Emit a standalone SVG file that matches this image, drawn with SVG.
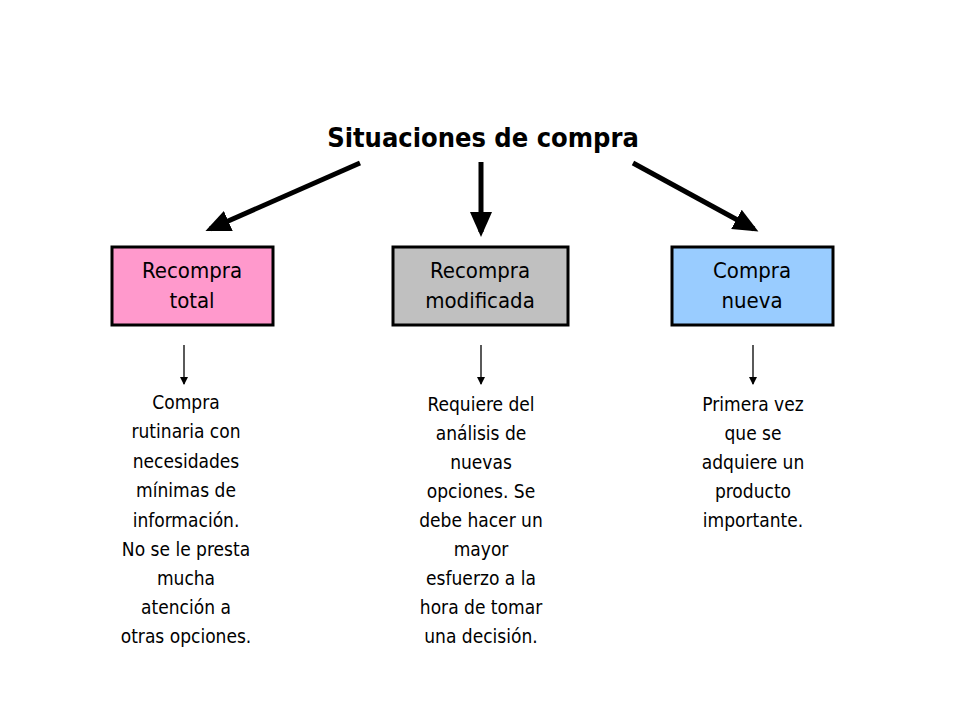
<svg xmlns="http://www.w3.org/2000/svg" width="960" height="720" viewBox="0 0 960 720">
<style>
text{font-family:"DejaVu Sans Condensed","DejaVu Sans",sans-serif;fill:#000;text-anchor:middle}
.t{font-size:27px;font-weight:bold}
.b{font-size:22px}
.d{font-size:19px}
.box{stroke:#000;stroke-width:3}
.big{stroke:#000;stroke-width:5;fill:none}
.sm{stroke:#000;stroke-width:1.3;fill:none}
</style>
<defs>
<marker id="ah" markerWidth="6" markerHeight="6" refX="4" refY="3" orient="auto" markerUnits="strokeWidth"><path d="M0,0.8 L5,3 L0,5.2 Z"/></marker>
<marker id="as" markerWidth="8" markerHeight="8" refX="7" refY="4" orient="auto" markerUnits="userSpaceOnUse"><path d="M0,0 L8,4 L0,8 Z"/></marker>
</defs>
<rect width="960" height="720" fill="#fff"/>
<g id="title"><text class="t" x="483" y="147">Situaciones de compra</text></g>
<g id="connectors">
<line class="big" x1="360" y1="163" x2="210" y2="229" marker-end="url(#ah)"/>
<line class="big" x1="481" y1="162" x2="481" y2="232" marker-end="url(#ah)"/>
<line class="big" x1="633" y1="163" x2="754" y2="229" marker-end="url(#ah)"/>
<line class="sm" x1="184" y1="345" x2="184" y2="384" marker-end="url(#as)"/>
<line class="sm" x1="481" y1="345" x2="481" y2="384" marker-end="url(#as)"/>
<line class="sm" x1="753" y1="345" x2="753" y2="384" marker-end="url(#as)"/>
</g>
<g id="n1"><rect class="box" x="112" y="247" width="161" height="78" fill="#ff99cc"/><text class="b" x="192" y="278">Recompra</text><text class="b" x="192" y="308">total</text></g>
<g id="n2"><rect class="box" x="393" y="247" width="175" height="78" fill="#c0c0c0"/><text class="b" x="480" y="278">Recompra</text><text class="b" x="480" y="308">modificada</text></g>
<g id="n3"><rect class="box" x="672" y="247" width="161" height="78" fill="#99ccff"/><text class="b" x="752" y="278">Compra</text><text class="b" x="752" y="308">nueva</text></g>
<g id="d1" class="d"><text class="d" x="186" y="409">Compra</text><text class="d" x="186" y="438">rutinaria con</text><text class="d" x="186" y="468">necesidades</text><text class="d" x="186" y="497">mínimas de</text><text class="d" x="186" y="527">información.</text><text class="d" x="186" y="556">No se le presta</text><text class="d" x="186" y="585">mucha</text><text class="d" x="186" y="614">atención a</text><text class="d" x="186" y="643">otras opciones.</text></g>
<g id="d2"><text class="d" x="481" y="411">Requiere del</text><text class="d" x="481" y="440">análisis de</text><text class="d" x="481" y="469">nuevas</text><text class="d" x="481" y="498">opciones. Se</text><text class="d" x="481" y="527">debe hacer un</text><text class="d" x="481" y="556">mayor</text><text class="d" x="481" y="585">esfuerzo a la</text><text class="d" x="481" y="614">hora de tomar</text><text class="d" x="481" y="643">una decisión.</text></g>
<g id="d3"><text class="d" x="753" y="411">Primera vez</text><text class="d" x="753" y="440">que se</text><text class="d" x="753" y="469">adquiere un</text><text class="d" x="753" y="498">producto</text><text class="d" x="753" y="527">importante.</text></g>
</svg>
